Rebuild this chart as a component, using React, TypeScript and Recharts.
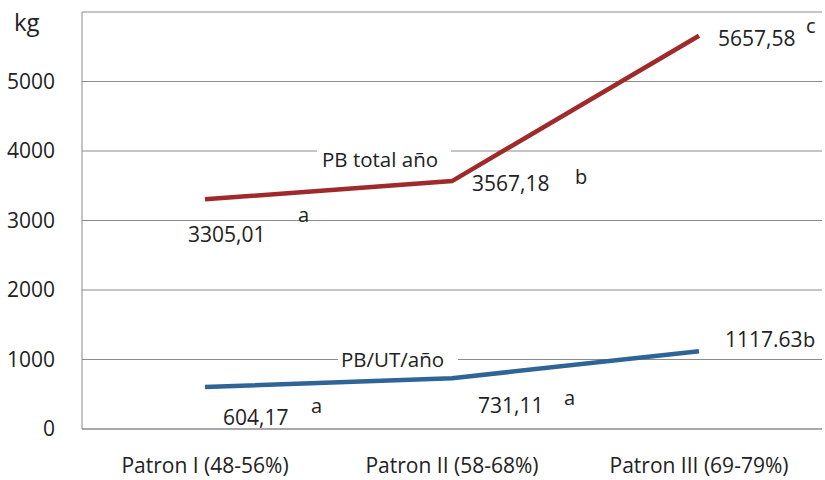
import React from 'react';
import { LineChart, Line, XAxis, YAxis, CartesianGrid, LabelList } from 'recharts';

const CATEGORIES = ['Patron I (48-56%)', 'Patron II (58-68%)', 'Patron III (69-79%)'];
const PB_TOTAL = [3305.01, 3567.18, 5657.58];
const PB_UT = [604.17, 731.11, 1117.63];
const PB_TOTAL_TEXT = ['3305,01', '3567,18', '5657,58'];
const PB_UT_TEXT = ['604,17', '731,11', '1117.63'];
const PB_TOTAL_LETTERS = ['a', 'b', 'c'];
const PB_UT_LETTERS = ['a', 'a', 'b'];
const Y_TICKS = [0, 1000, 2000, 3000, 4000, 5000, 6000];

const data = CATEGORIES.map((name, i) => ({ name, total: PB_TOTAL[i], ut: PB_UT[i] }));

const font = '"Open Sans", sans-serif';
const textColor = '#222';
const gridColor = '#8a8a8a';

// label placement relative to each point: value text, then the letter
const TOTAL_POS = [
  { vx: -17, vy: 43, lx: 93, ly: 23 },
  { vx: 20, vy: 10, lx: 123, ly: 3 },
  { vx: 19, vy: 10, lx: 107, ly: -3 },
];
const UT_POS = [
  { vx: 18, vy: 38, lx: 106, ly: 26 },
  { vx: 26, vy: 35, lx: 112, ly: 27 },
  { vx: 26, vy: -4, lx: 104, ly: -4 },
];

const makeLabel = (texts: string[], letters: string[], pos: any[], series: any) => (props: any) => {
  const { x, y, index } = props;
  const p = pos[index];
  return (
    <g>
      {index === 0 && (
        <g>
          <rect x={x + series.rx} y={y + series.ry} width={series.rw} height={series.rh} fill="#fff" />
          <text x={x + series.tx} y={y + series.ty} fontSize={20.5} fontFamily={font} fill={textColor}>
            {series.name}
          </text>
        </g>
      )}
      <text x={x + p.vx} y={y + p.vy} fontSize={21} fontFamily={font} fill={textColor}>
        {texts[index]}
      </text>
      <text x={x + p.lx} y={y + p.ly} fontSize={20} fontFamily={font} fill={textColor}>
        {letters[index]}
      </text>
    </g>
  );
};

const totalLabel = makeLabel(PB_TOTAL_TEXT, PB_TOTAL_LETTERS, TOTAL_POS, {
  name: 'PB total año', rx: 112, ry: -54, rw: 134, rh: 28, tx: 117, ty: -32,
});
const utLabel = makeLabel(PB_UT_TEXT, PB_UT_LETTERS, UT_POS, {
  name: 'PB/UT/año', rx: 133, ry: -38, rw: 120, rh: 24, tx: 136, ty: -20,
});

export default function App() {
  return (
    <div style={{ position: 'absolute', left: 0, top: 0, background: '#fff' }}>
      <LineChart width={825} height={480} data={data} margin={{ top: 12, right: 3, bottom: 0, left: 0 }}>
        <CartesianGrid stroke={gridColor} vertical={false} />
        <XAxis
          dataKey="name"
          height={51}
          padding={{ left: 123, right: 123 }}
          axisLine={{ stroke: gridColor }}
          tickLine={false}
          tickSize={0}
          tickMargin={29}
          tick={{ fill: textColor, fontSize: 21, fontFamily: font }}
        />
        <YAxis
          width={82}
          domain={[0, 6000]}
          ticks={Y_TICKS}
          interval={0}
          axisLine={{ stroke: gridColor }}
          tickLine={false}
          tickSize={0}
          tickMargin={27}
          tickFormatter={(v: number) => (v === 6000 ? '' : String(v))}
          tick={{ fill: textColor, fontSize: 21, fontFamily: font }}
          label={{ value: 'kg', position: 'insideTopLeft', offset: 0, dx: 14, dy: 2, fontSize: 24, fontFamily: font, fill: textColor }}
        />
        <Line dataKey="total" stroke="#9e2a2b" strokeWidth={4.5} dot={false} isAnimationActive={false}>
          <LabelList dataKey="total" content={totalLabel} />
        </Line>
        <Line dataKey="ut" stroke="#2f6596" strokeWidth={4.5} dot={false} isAnimationActive={false}>
          <LabelList dataKey="ut" content={utLabel} />
        </Line>
      </LineChart>
    </div>
  );
}
